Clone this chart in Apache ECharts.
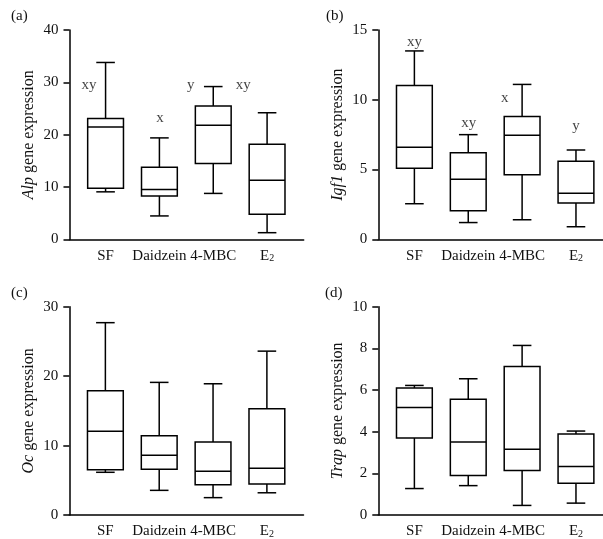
<!DOCTYPE html>
<html>
<head>
<meta charset="utf-8">
<script src="https://cdn.jsdelivr.net/npm/echarts@6/dist/echarts.min.js"></script>
<style>
  html, body { margin: 0; padding: 0; background: #fff; }
  #chart { width: 603px; height: 539px; }
</style>
</head>
<body>
<div id="chart"></div>
<script>
// group names on the x axis (E{sub|2} -> E with subscript 2)
var groups = ['SF', 'Daidzein', '4-MBC', 'E{sub|2}'];
var groupPos = [1, 2, 3, 4];

// box values per group: [min, Q1, median, Q3, max]
var alpBoxes = [
    [9.1, 9.8, 21.5, 23.1, 33.8],
    [4.5, 8.3, 9.55, 13.8, 19.4],
    [8.8, 14.5, 21.8, 25.5, 29.2],
    [1.3, 4.8, 11.3, 18.2, 24.2]
];
var igf1Boxes = [
    [2.55, 5.1, 6.6, 11.03, 13.5],
    [1.2, 2.05, 4.3, 6.2, 7.5],
    [1.4, 4.63, 7.45, 8.8, 11.1],
    [0.9, 2.6, 3.3, 5.6, 6.4]
];
var ocBoxes = [
    [6.15, 6.5, 12.05, 17.9, 27.7],
    [3.55, 6.6, 8.6, 11.4, 19.1],
    [2.5, 4.35, 6.3, 10.5, 18.9],
    [3.2, 4.45, 6.75, 15.3, 23.6]
];
var trapBoxes = [
    [1.27, 3.7, 5.16, 6.1, 6.22],
    [1.41, 1.9, 3.5, 5.56, 6.54],
    [0.46, 2.14, 3.16, 7.13, 8.14],
    [0.57, 1.52, 2.33, 3.89, 4.03]
];

// significance letters
var alpLetters = ['xy', 'x', 'y', 'xy'];
var alpLetterX = [0.69, 2.01, 2.58, 3.555];
var alpLetterY = [29.5, 23.1, 29.5, 29.5];
var igf1Letters = ['xy', 'xy', 'x', 'y'];
var igf1LetterX = [1, 2.01, 2.68, 4];
var igf1LetterY = [14.15, 8.3, 10.1, 8.1];

// y axis ranges
var alpAxis = [0, 40, 10];
var igf1Axis = [0, 15, 5];
var ocAxis = [0, 30, 10];
var trapAxis = [0, 10, 2];

var font = 'Liberation Serif';

var panels = [
    { tag: '(a)', gene: 'Alp', boxes: alpBoxes, axis: alpAxis, letters: alpLetters, lx: alpLetterX, ly: alpLetterY,
      grid: { left: 69.5, top: 30, width: 234.2, height: 209.5 }, xmax: 4.68, tagPos: [11, 9] },
    { tag: '(b)', gene: 'Igf1', boxes: igf1Boxes, axis: igf1Axis, letters: igf1Letters, lx: igf1LetterX, ly: igf1LetterY,
      grid: { left: 378.3, top: 30, width: 224.6, height: 209.3 }, xmax: 4.5, tagPos: [326, 9] },
    { tag: '(c)', gene: 'Oc', boxes: ocBoxes, axis: ocAxis, letters: null,
      grid: { left: 69.3, top: 306.7, width: 234.2, height: 210 }, xmax: 4.68, tagPos: [11, 286] },
    { tag: '(d)', gene: 'Trap', boxes: trapBoxes, axis: trapAxis, letters: null,
      grid: { left: 378.3, top: 306.7, width: 224.6, height: 210 }, xmax: 4.5, tagPos: [325, 286] }
];

function renderBox(params, api) {
    var x = api.value(0);
    var pMin = api.coord([x, api.value(1)]);
    var pQ1 = api.coord([x, api.value(2)]);
    var pMed = api.coord([x, api.value(3)]);
    var pQ3 = api.coord([x, api.value(4)]);
    var pMax = api.coord([x, api.value(5)]);
    var cx = pMin[0];
    var hw = 17.9, cw = 9.3;
    var ls = { stroke: '#000', lineWidth: 1.5 };
    return {
        type: 'group',
        children: [
            { type: 'line', shape: { x1: cx, y1: pQ3[1], x2: cx, y2: pMax[1] }, style: ls },
            { type: 'line', shape: { x1: cx, y1: pQ1[1], x2: cx, y2: pMin[1] }, style: ls },
            { type: 'line', shape: { x1: cx - cw, y1: pMax[1], x2: cx + cw, y2: pMax[1] }, style: ls },
            { type: 'line', shape: { x1: cx - cw, y1: pMin[1], x2: cx + cw, y2: pMin[1] }, style: ls },
            { type: 'rect', shape: { x: cx - hw, y: pQ3[1], width: 2 * hw, height: pQ1[1] - pQ3[1] },
              style: { stroke: '#000', fill: '#fff', lineWidth: 1.5 } },
            { type: 'line', shape: { x1: cx - hw, y1: pMed[1], x2: cx + hw, y2: pMed[1] }, style: ls }
        ]
    };
}

var option = {
    animation: false,
    backgroundColor: '#fff',
    title: [],
    grid: [],
    xAxis: [],
    yAxis: [],
    series: []
};

panels.forEach(function (p, i) {
    option.title.push({
        text: p.tag, left: p.tagPos[0], top: p.tagPos[1], padding: 0,
        textStyle: { fontFamily: font, fontSize: 15, fontWeight: 'normal', color: '#111' }
    });
    option.grid.push(p.grid);
    option.xAxis.push({
        type: 'value', gridIndex: i, min: 0.33, max: p.xmax,
        axisLine: { show: true, lineStyle: { color: '#000', width: 1.5 } },
        axisTick: { show: false },
        splitLine: { show: false },
        axisLabel: {
            customValues: groupPos,
            margin: 9,
            fontFamily: font, fontSize: 15, color: '#111',
            formatter: function (v) { return groups[Math.round(v) - 1] || ''; },
            rich: {
                sub: { fontFamily: font, fontSize: 10, color: '#111', lineHeight: 6, verticalAlign: 'bottom' }
            }
        }
    });
    option.yAxis.push({
        type: 'value', gridIndex: i, min: p.axis[0], max: p.axis[1], interval: p.axis[2],
        name: '{i|' + p.gene + '} gene expression',
        nameLocation: 'middle', nameGap: 33,
        nameTextStyle: {
            fontFamily: font, fontSize: 16, color: '#111',
            rich: { i: { fontFamily: font, fontSize: 16, fontStyle: 'italic', color: '#111' } }
        },
        axisLine: { show: true, lineStyle: { color: '#000', width: 1.5 } },
        axisTick: { show: true, length: 6, lineStyle: { color: '#000', width: 1.5 } },
        splitLine: { show: false },
        axisLabel: { margin: 11, fontFamily: font, fontSize: 15, color: '#111' }
    });
    option.series.push({
        type: 'custom', xAxisIndex: i, yAxisIndex: i,
        renderItem: renderBox,
        encode: { x: 0, y: [1, 2, 3, 4, 5] },
        data: p.boxes.map(function (b, k) { return [groupPos[k]].concat(b); })
    });
    if (p.letters) {
        option.series.push({
            type: 'scatter', xAxisIndex: i, yAxisIndex: i,
            symbolSize: 0,
            label: {
                show: true, position: 'inside', color: '#111',
                fontFamily: font, fontSize: 15,
                formatter: function (q) { return p.letters[q.dataIndex]; }
            },
            data: p.letters.map(function (t, k) { return [p.lx[k], p.ly[k]]; })
        });
    }
});

var myChart = echarts.init(document.getElementById('chart'));
myChart.setOption(option);
</script>
</body>
</html>
